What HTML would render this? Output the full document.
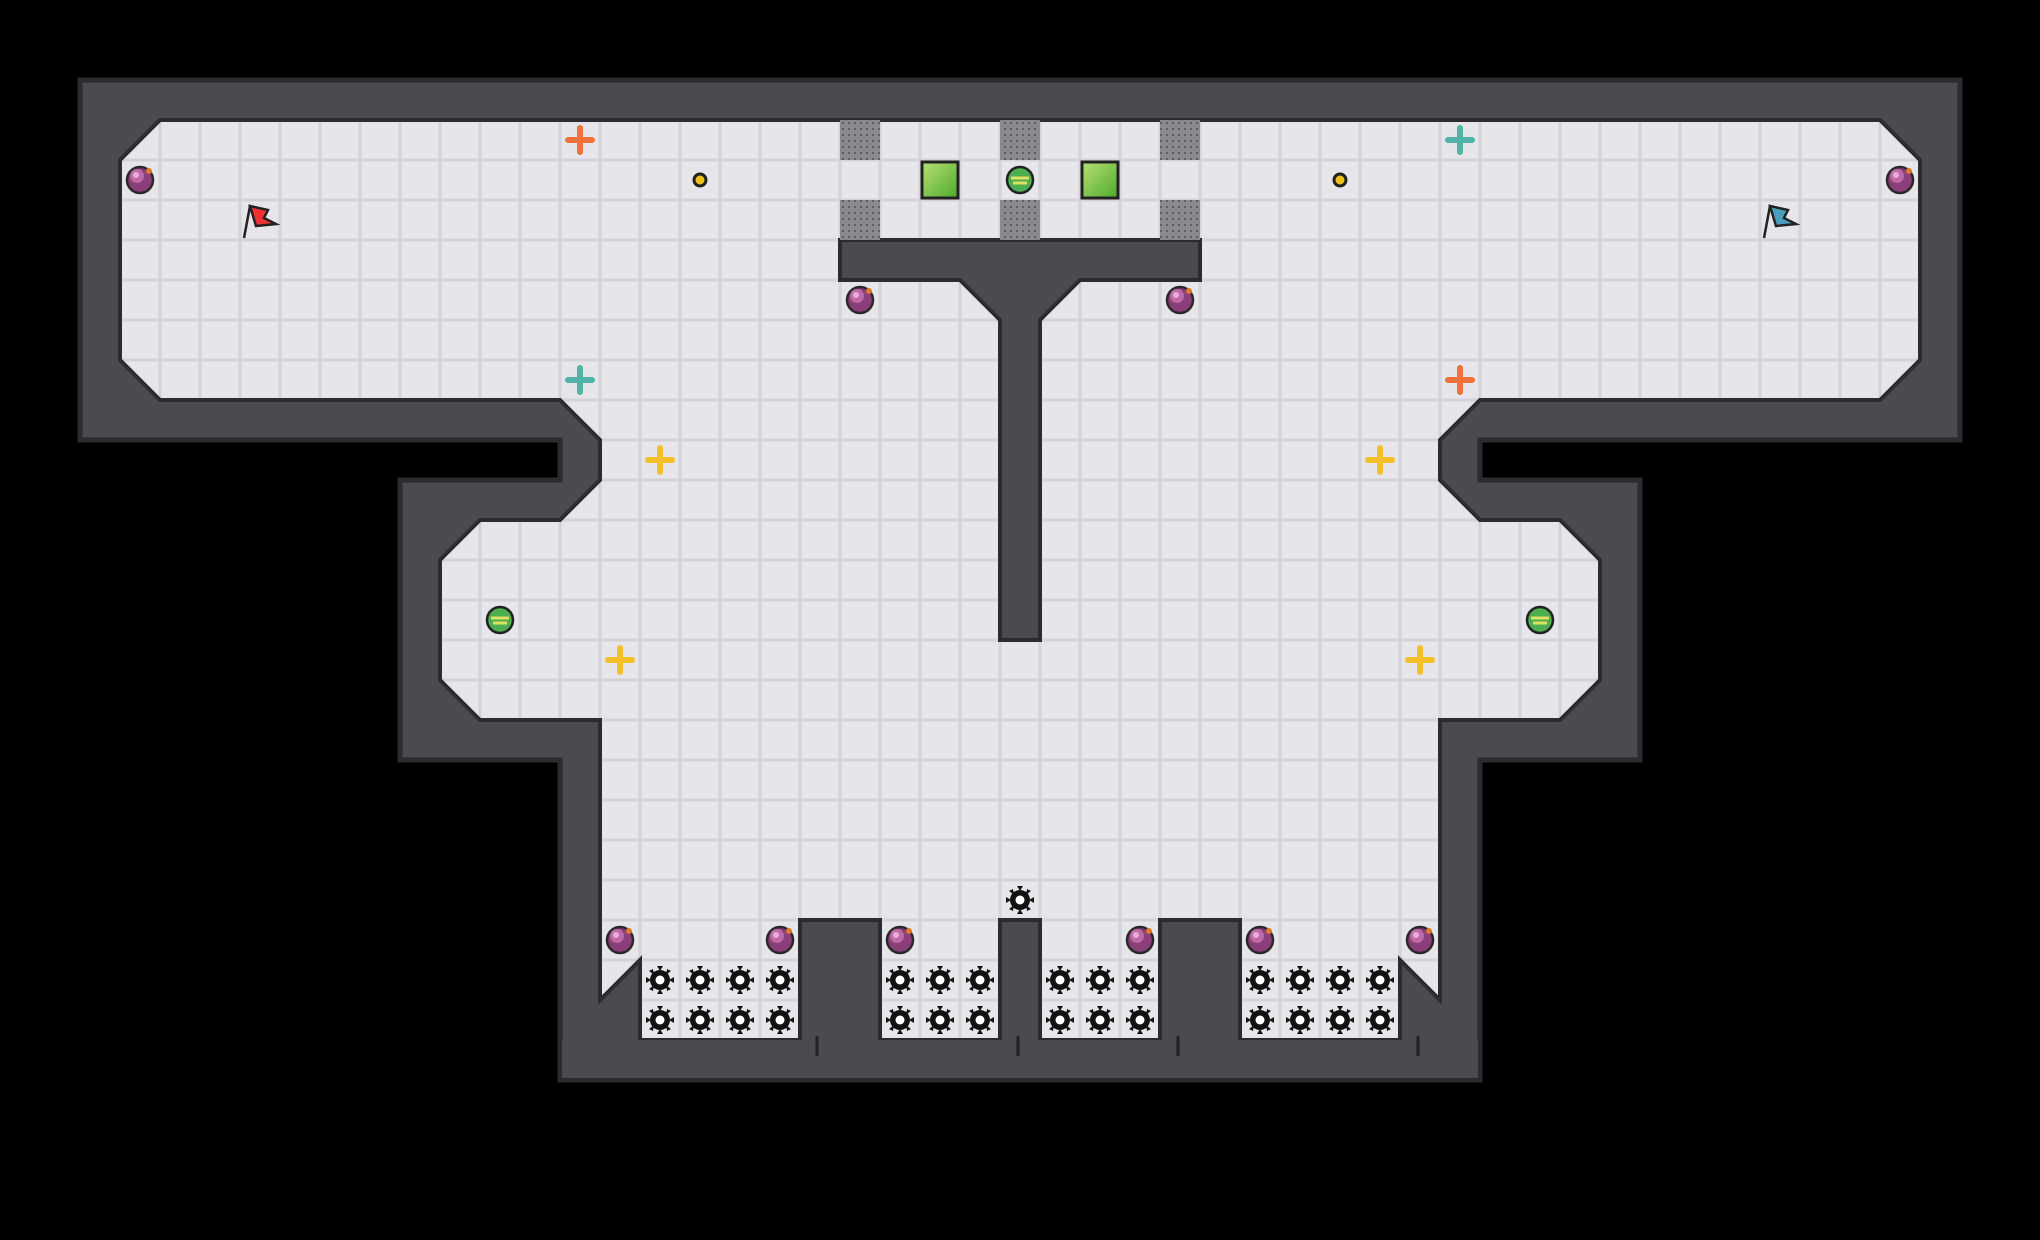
<!DOCTYPE html>
<html><head><meta charset="utf-8"><style>html,body{margin:0;padding:0;background:#000;}svg{display:block}</style></head>
<body>
<svg width="2040" height="1240" viewBox="0 0 2040 1240" xmlns="http://www.w3.org/2000/svg">
<defs>
<pattern id="g" x="0" y="0" width="40" height="40" patternUnits="userSpaceOnUse">
<rect width="40" height="40" fill="#d2d2d8"/>
<rect x="1.5" y="1.5" width="37" height="37" fill="#e6e6ea"/>
</pattern>
<pattern id="dots" width="6" height="6" patternUnits="userSpaceOnUse">
<rect width="6" height="6" fill="#8a8a8e"/><rect x="2" y="2" width="2" height="2" fill="#5e5e62"/>
</pattern>
<linearGradient id="gs" x1="0" y1="0" x2="1" y2="1"><stop offset="0" stop-color="#b8e070"/><stop offset="1" stop-color="#4caa30"/></linearGradient>
<g id="ball"><circle r="13" fill="#8a3f7a" stroke="#2a2a2a" stroke-width="2.5"/><circle cx="-3" cy="-4" r="7" fill="#c06aa8"/><circle cx="-4" cy="-5" r="3" fill="#e8b0d8"/><circle cx="9" cy="-9" r="3" fill="#e07a2a"/></g>
<g id="gball"><circle r="13" fill="#4caf50" stroke="#222" stroke-width="2.5"/><path d="M-9 -2 H9 M-7 3 H7" stroke="#e0e060" stroke-width="3"/></g>
<g id="spike"><circle r="10" fill="#111"/><circle r="4.5" fill="#fff"/><g fill="#111"><path d="M-3 -14 L3 -14 L0 -9Z"/><path d="M-3 14 L3 14 L0 9Z"/><path d="M-14 -3 L-14 3 L-9 0Z"/><path d="M14 -3 L14 3 L9 0Z"/><path d="M-11 -9 L-7 -11 L-6 -5Z" /><path d="M11 9 L7 11 L6 5Z"/><path d="M11 -9 L7 -11 L6 -5Z"/><path d="M-11 9 L-7 11 L-6 5Z"/></g></g>
</defs>
<rect width="2040" height="1240" fill="#000"/>
<path d="M80 80 H1960 V440 H1480 V480 H1640 V760 H1480 V1080 H560 V760 H400 V480 H560 V440 H80 Z" fill="#4a4a50" stroke="#2c2c30" stroke-width="5"/>
<path d="M160 120 H1880 L1920 160 V360 L1880 400 H1480 L1440 440 V480 L1480 520 H1560 L1600 560 V680 L1560 720 H1440 V1000 L1400 960 V1040 H640 V960 L600 1000 V720 H480 L440 680 V560 L480 520 H560 L600 480 V440 L560 400 H160 L120 360 V160 Z" fill="url(#g)" stroke="#2c2c30" stroke-width="4"/>
<g fill="#4a4a50" stroke="#2c2c30" stroke-width="4"><rect x="800" y="920" width="80" height="160"/><rect x="1000" y="920" width="40" height="160"/><rect x="1160" y="920" width="80" height="160"/></g>
<rect x="562" y="1040" width="916" height="38" fill="#4a4a50"/>
<g stroke="#222" stroke-width="3"><path d="M817 1036 V1056 M1018 1036 V1056 M1178 1036 V1056 M1418 1036 V1056"/></g>
<path d="M840 240 H1200 V280 H1080 L1040 320 V640 H1000 V320 L960 280 H840 Z" fill="#4a4a50" stroke="#2c2c30" stroke-width="4"/>
<g fill="url(#dots)"><rect x="840" y="120" width="40" height="40"/><rect x="1000" y="120" width="40" height="40"/><rect x="1160" y="120" width="40" height="40"/><rect x="840" y="200" width="40" height="40"/><rect x="1000" y="200" width="40" height="40"/><rect x="1160" y="200" width="40" height="40"/></g>
<g stroke="#222" stroke-width="3"><rect x="922" y="162" width="36" height="36" fill="url(#gs)"/><rect x="1082" y="162" width="36" height="36" fill="url(#gs)"/></g>
<g fill="#f2c11a" stroke="#222" stroke-width="3"><circle cx="700" cy="180" r="6"/><circle cx="1340" cy="180" r="6"/></g>
<use href="#ball" x="140" y="180"/><use href="#ball" x="1900" y="180"/><use href="#ball" x="860" y="300"/><use href="#ball" x="1180" y="300"/>
<use href="#ball" x="620" y="940"/><use href="#ball" x="780" y="940"/><use href="#ball" x="900" y="940"/><use href="#ball" x="1140" y="940"/><use href="#ball" x="1260" y="940"/><use href="#ball" x="1420" y="940"/>
<use href="#gball" x="1020" y="180"/><use href="#gball" x="500" y="620"/><use href="#gball" x="1540" y="620"/>
<g stroke="#222" stroke-width="2.5"><path d="M244 238 L250 206" fill="none"/><path d="M250 206 L268 210 L264 218 L276 224 L256 226 Z" fill="#e33"/></g>
<g stroke="#222" stroke-width="2.5"><path d="M1764 238 L1770 206" fill="none"/><path d="M1770 206 L1788 210 L1784 218 L1796 224 L1776 226 Z" fill="#4a9ec0"/></g>
<g stroke-width="6" stroke-linecap="round">
<path d="M568 140 H592 M580 128 V152" stroke="#f0703a"/>
<path d="M1448 140 H1472 M1460 128 V152" stroke="#4fb3a8"/>
<path d="M568 380 H592 M580 368 V392" stroke="#4fb3a8"/>
<path d="M1448 380 H1472 M1460 368 V392" stroke="#f0703a"/>
<path d="M648 460 H672 M660 448 V472" stroke="#f4c02a"/>
<path d="M1368 460 H1392 M1380 448 V472" stroke="#f4c02a"/>
<path d="M608 660 H632 M620 648 V672" stroke="#f4c02a"/>
<path d="M1408 660 H1432 M1420 648 V672" stroke="#f4c02a"/>
</g>
<use href="#spike" x="1020" y="900"/>
<g>
<use href="#spike" x="660" y="980"/><use href="#spike" x="700" y="980"/><use href="#spike" x="740" y="980"/><use href="#spike" x="780" y="980"/>
<use href="#spike" x="660" y="1020"/><use href="#spike" x="700" y="1020"/><use href="#spike" x="740" y="1020"/><use href="#spike" x="780" y="1020"/>
<use href="#spike" x="900" y="980"/><use href="#spike" x="940" y="980"/><use href="#spike" x="980" y="980"/>
<use href="#spike" x="900" y="1020"/><use href="#spike" x="940" y="1020"/><use href="#spike" x="980" y="1020"/>
<use href="#spike" x="1060" y="980"/><use href="#spike" x="1100" y="980"/><use href="#spike" x="1140" y="980"/>
<use href="#spike" x="1060" y="1020"/><use href="#spike" x="1100" y="1020"/><use href="#spike" x="1140" y="1020"/>
<use href="#spike" x="1260" y="980"/><use href="#spike" x="1300" y="980"/><use href="#spike" x="1340" y="980"/><use href="#spike" x="1380" y="980"/>
<use href="#spike" x="1260" y="1020"/><use href="#spike" x="1300" y="1020"/><use href="#spike" x="1340" y="1020"/><use href="#spike" x="1380" y="1020"/>
</g>
</svg>
</body></html>
